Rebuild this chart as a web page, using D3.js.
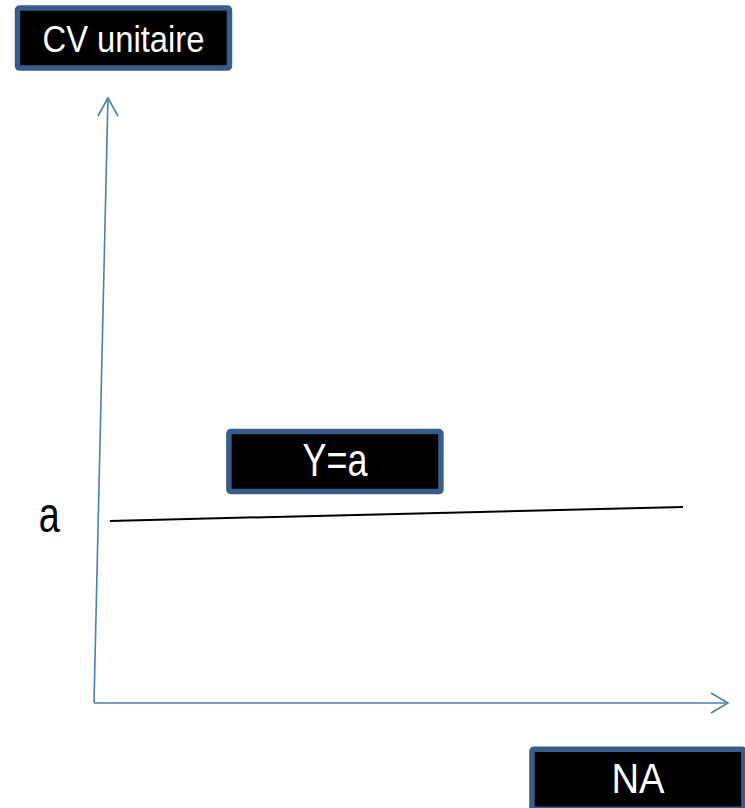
<!DOCTYPE html>
<html>
<head>
<meta charset="utf-8">
<script src="https://cdn.jsdelivr.net/npm/d3@7"></script>
<style>
  body { margin: 0; background: #fff; }
  svg { display: block; }
</style>
</head>
<body>
<script>
// axis end points in data units (0..100 on both axes), axes drawn a little skewed like the original
const axisOrigin = [0, 0];
const axisXEnd = [100, 0];
const axisYEnd = [2.2, 100];

// the constant line Y = a (hand-drawn, slightly rising)
const lineX = [2.5, 92.9];
const lineY = [30.1, 32.4];

// boxed labels: text, centre x, centre y (data units), font size, text width
const boxTexts = ["CV unitaire", "Y=a", "NA"];
const boxCx = [4.65, 38, 85.8];
const boxCy = [109.9, 39.9, -12.6];
const boxFont = [36, 46, 43];
const boxTextW = [162, 65, 53];

const w = 745;
const h = 808;

const x = d3.scaleLinear().domain([0, 100]).range([94, 728]);
const y = d3.scaleLinear().domain([0, 100]).range([703, 98]);

const svg = d3.select("body")
    .append("svg")
    .attr("width", w)
    .attr("height", h);

const axisColor = "#4a7ebb";
const font = "'Liberation Sans Narrow', 'Liberation Sans', sans-serif";

// axes with open arrow heads
function arrowAxis(end, dir) {
    const x2 = x(end[0]), y2 = y(end[1]);
    svg.append("line")
        .attr("x1", x(axisOrigin[0])).attr("y1", y(axisOrigin[1]))
        .attr("x2", x2).attr("y2", y2)
        .attr("stroke", axisColor).attr("stroke-width", 1.6);
    const head = dir === "x"
        ? [[x2 - 17, y2 - 10], [x2, y2], [x2 - 17, y2 + 10]]
        : [[x2 - 10, y2 + 18], [x2, y2], [x2 + 10, y2 + 18]];
    svg.append("path")
        .attr("d", d3.line()(head))
        .attr("fill", "none")
        .attr("stroke", axisColor).attr("stroke-width", 1.6);
}
arrowAxis(axisXEnd, "x");
arrowAxis(axisYEnd, "y");

// Y = a line
svg.append("path")
    .datum(d3.zip(lineX, lineY))
    .attr("d", d3.line().x(d => x(d[0])).y(d => y(d[1])))
    .attr("stroke", "#000")
    .attr("stroke-width", 2)
    .attr("fill", "none");

// "a" on the y axis
svg.append("text")
    .text("a")
    .attr("x", x(lineX[0]) - 71)
    .attr("y", y(lineY[0]) + 11)
    .attr("font-family", font)
    .attr("font-size", 50)
    .attr("textLength", 21)
    .attr("lengthAdjust", "spacingAndGlyphs")
    .attr("fill", "#000");

// black boxes with blue border
const bw = 212, bh = 60;
const boxes = svg.selectAll("g.box")
    .data(boxTexts)
    .enter()
    .append("g")
    .attr("class", "box")
    .attr("transform", (d, i) => "translate(" + x(boxCx[i]) + "," + y(boxCy[i]) + ")");
boxes.append("rect")
    .attr("x", -bw / 2).attr("y", -bh / 2)
    .attr("width", bw).attr("height", bh)
    .attr("rx", 2)
    .attr("fill", "#000")
    .attr("stroke", "#385d8a")
    .attr("stroke-width", 5.5);
boxes.append("text")
    .text(d => d)
    .attr("text-anchor", "middle")
    .attr("y", 14)
    .attr("font-family", font)
    .attr("font-size", (d, i) => boxFont[i])
    .attr("textLength", (d, i) => boxTextW[i])
    .attr("lengthAdjust", "spacingAndGlyphs")
    .attr("fill", "#fff");
</script>
</body>
</html>
